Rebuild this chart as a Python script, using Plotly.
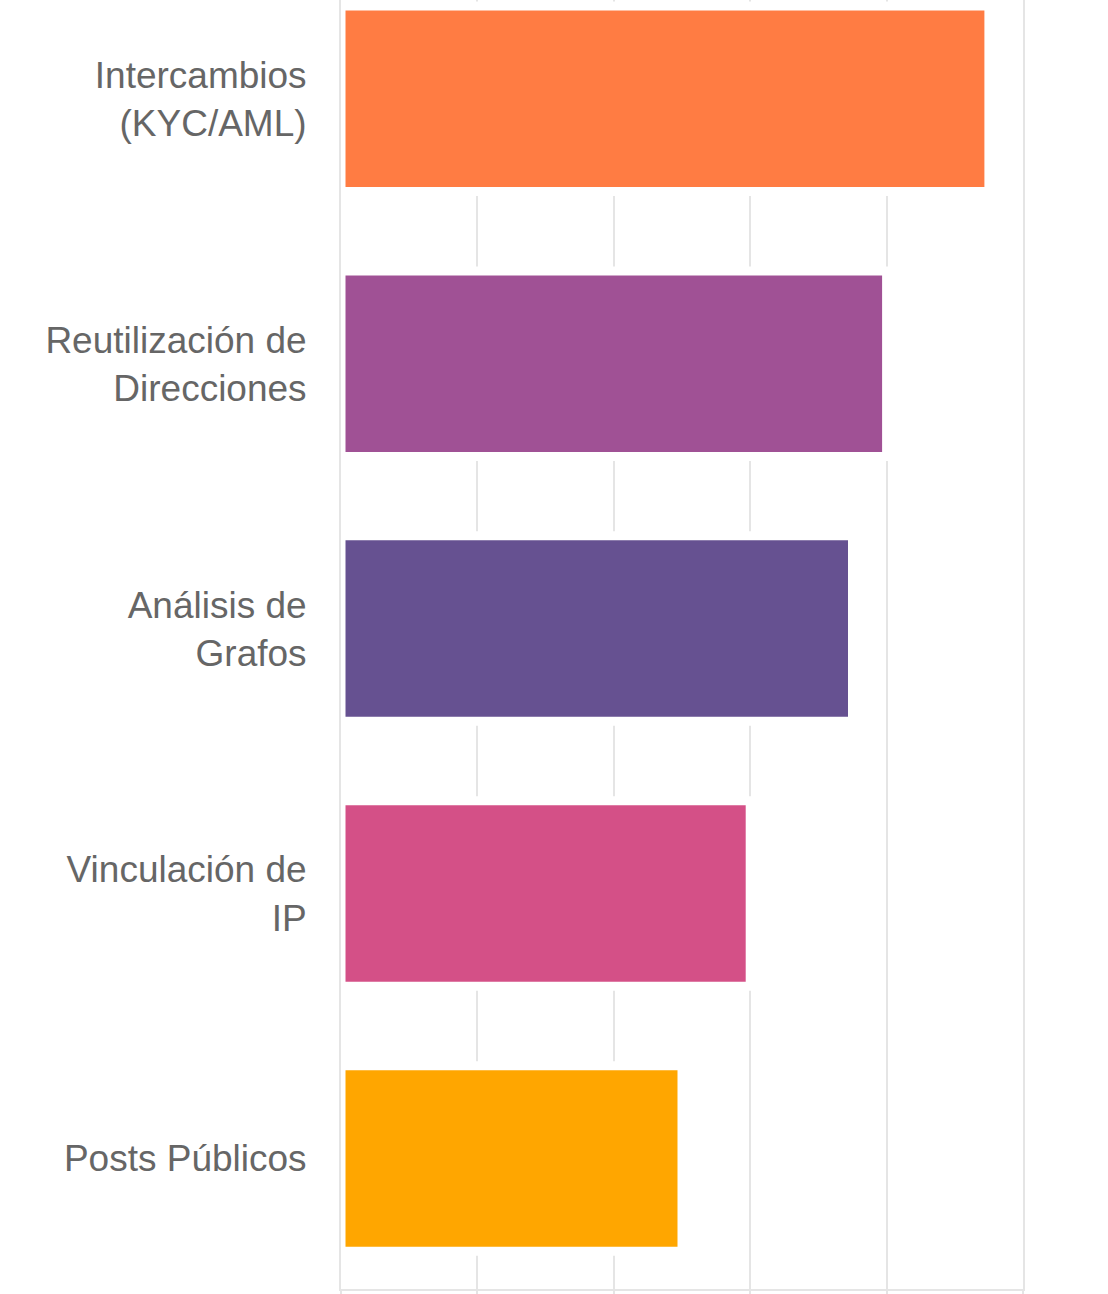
import plotly.graph_objects as go

categories = [
    "Intercambios<br>(KYC/AML)",
    "Reutilización de<br>Direcciones",
    "Análisis de<br>Grafos",
    "Vinculación de<br>IP",
    "Posts Públicos",
]
values = [95, 80, 75, 60, 50]
bar_colors = ["#ff7c43", "#a05195", "#665191", "#d45087", "#ffa600"]
x_ticks = [0, 20, 40, 60, 80, 100]

GRID = "#e5e5e5"
FONT = "Liberation Sans, Arial, Helvetica, sans-serif"

fig = go.Figure(
    go.Bar(
        x=values,
        y=categories,
        orientation="h",
        marker=dict(color=bar_colors, line=dict(color="white", width=9)),
        hoverinfo="x+y",
    )
)

fig.update_layout(
    width=1108,
    height=1294,
    margin=dict(l=341, r=85, t=0, b=5, pad=0, autoexpand=False),
    paper_bgcolor="white",
    plot_bgcolor="white",
    bargap=0.3,
    showlegend=False,
    font=dict(family=FONT, color="#666666", size=37),
)

fig.update_xaxes(
    range=[0, 100],
    tickvals=x_ticks,
    showticklabels=False,
    showgrid=True,
    gridcolor=GRID,
    gridwidth=2,
    showline=True,
    linecolor=GRID,
    linewidth=2,
    ticks="outside",
    ticklen=8,
    tickwidth=2,
    tickcolor=GRID,
    zeroline=False,
    automargin=False,
    fixedrange=True,
)

fig.update_yaxes(
    type="category",
    categoryorder="array",
    categoryarray=categories[::-1],
    range=[-0.4925, 4.3725],
    showgrid=False,
    showline=True,
    mirror=True,
    linecolor=GRID,
    linewidth=2,
    ticks="outside",
    ticklen=25,
    tickcolor="rgba(0,0,0,0)",
    tickfont=dict(family=FONT, color="#666666", size=37),
    zeroline=False,
    automargin=False,
    fixedrange=True,
)

fig.write_html("out.html", config={"displayModeBar": False})

with open("out.html", "r", encoding="utf-8") as f:
    html = f.read()
html = html.replace(
    "<head>",
    "<head><style>html,body{margin:0;padding:0;overflow:hidden;}</style>",
    1,
)
with open("out.html", "w", encoding="utf-8") as f:
    f.write(html)
